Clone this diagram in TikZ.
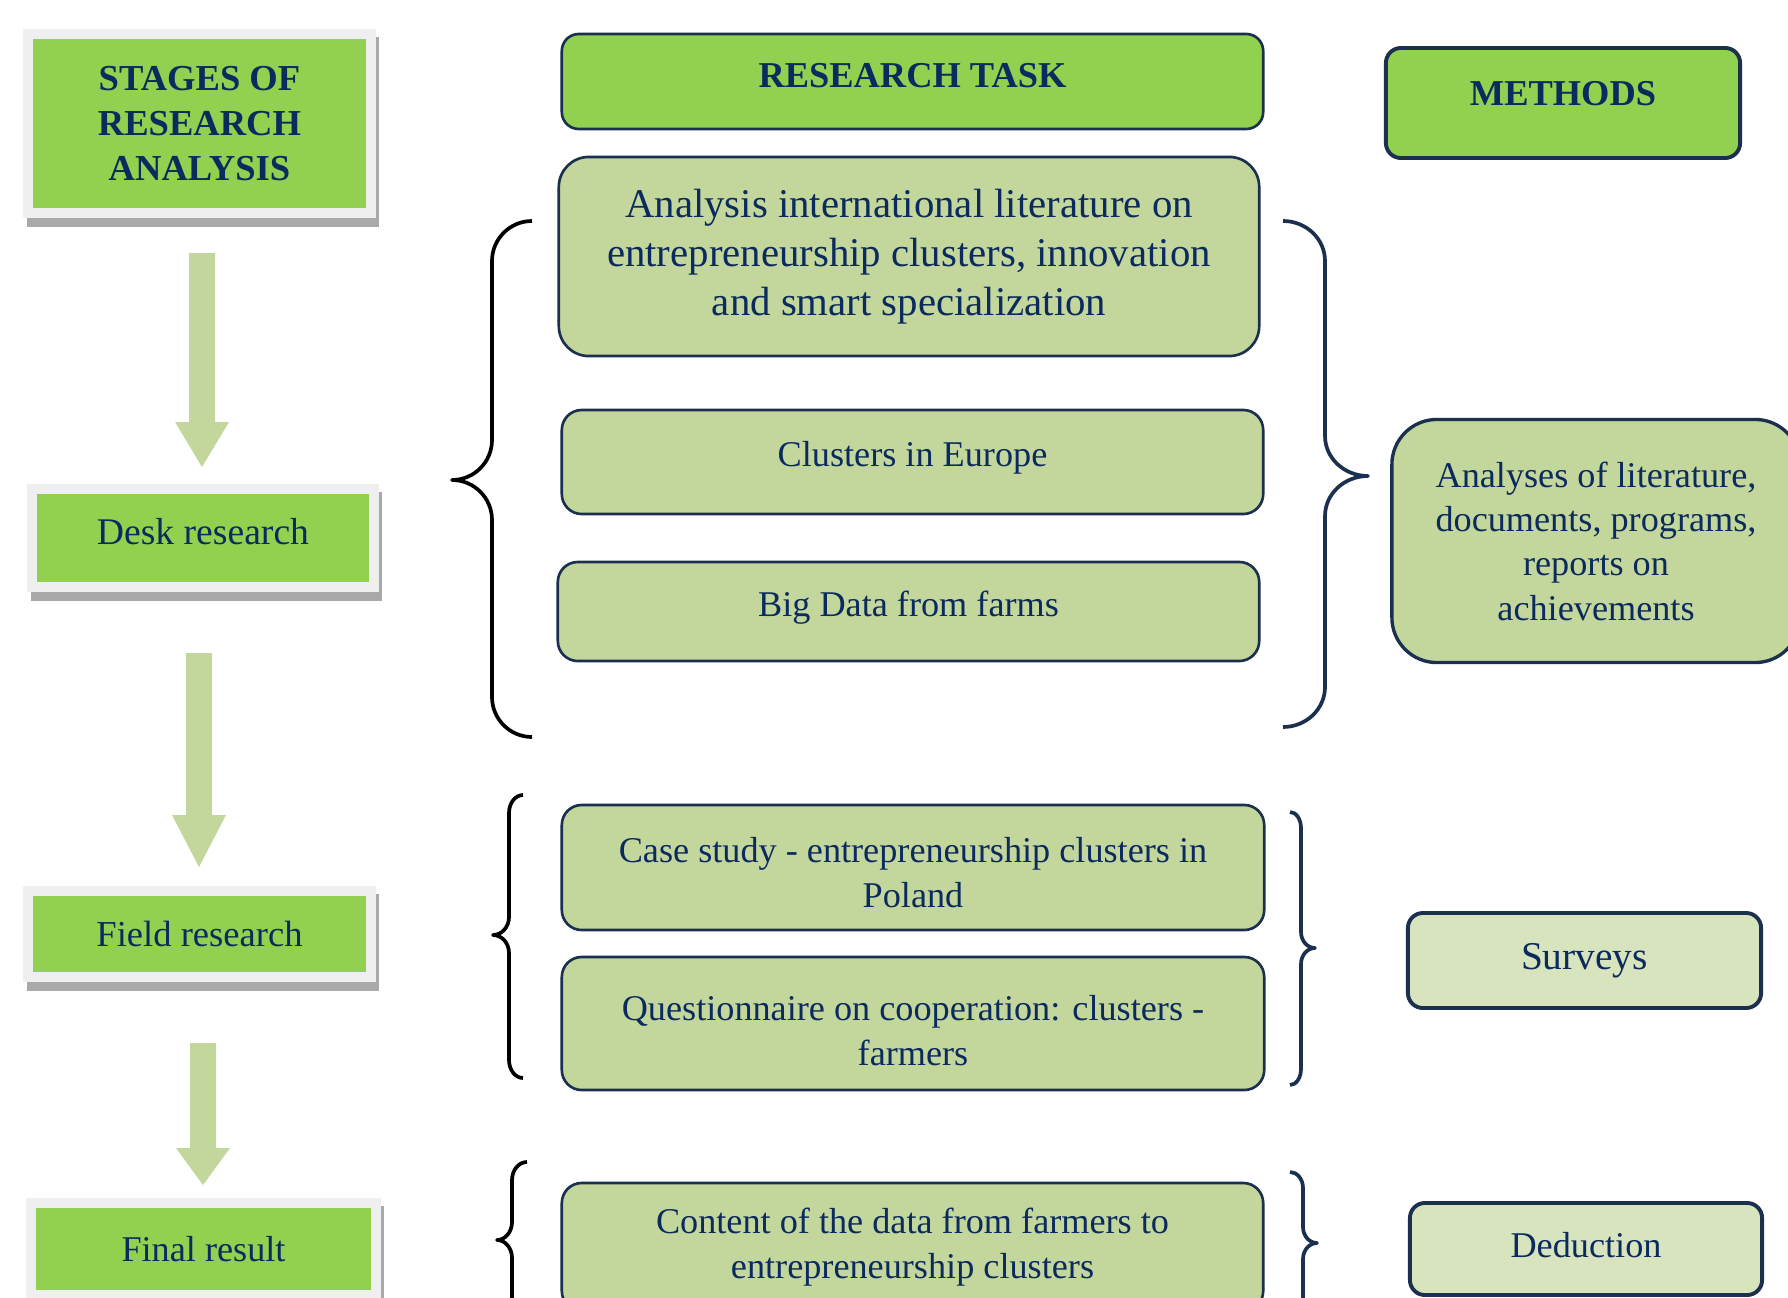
\documentclass[tikz,border=0pt]{standalone}
\usepackage{fontspec}
\setmainfont{Liberation Serif}
\usetikzlibrary{backgrounds,calc}
\definecolor{brightgreen}{HTML}{92D050}
\definecolor{olive}{HTML}{C3D69B}
\definecolor{pale}{HTML}{D7E4BD}
\definecolor{navy}{HTML}{0B2A5E}
\definecolor{edge}{HTML}{1B2F4E}
\definecolor{framegray}{HTML}{EFEFEF}
\definecolor{shadowgray}{HTML}{A9A9A9}
\newcommand\stagearrow[4]{\fill[olive] (#1-13,#2) -- (#1+13,#2) -- (#1+13,#3) -- (#1+27,#3) -- (#1,#4) -- (#1-27,#3) -- (#1-13,#3) -- cycle;}
% style, end x, spine x, tip x, top y, mid y, bottom y, radius
\newcommand\curlybrace[8]{\draw[#1]
  (#2,#5) .. controls ({#2-0.552*(#2-#3)},#5) and (#3,{#5+0.448*#8}) .. (#3,#5+#8)
  -- (#3,#6-#8) .. controls (#3,{#6-0.448*#8}) and ({#3+0.448*(#4-#3)},#6) .. (#4,#6)
  .. controls ({#3+0.448*(#4-#3)},#6) and (#3,{#6+0.448*#8}) .. (#3,#6+#8)
  -- (#3,#7-#8) .. controls (#3,{#7-0.448*#8}) and ({#2-0.552*(#2-#3)},#7) .. (#2,#7);}
\begin{document}
\begin{tikzpicture}[x=0.01cm,y=-0.01cm,
  stagebox/.style={draw=framegray, line width=0.1cm, fill=brightgreen, text=navy, align=center, inner sep=0pt, outer sep=0pt},
  taskbox/.style={draw=edge, line width=0.75pt, fill=olive, text=navy, align=center, inner sep=0pt, rounded corners=0.2cm, font=\fontsize{10.3}{12.8}\selectfont},
  headgreen/.style={draw=edge, line width=0.75pt, fill=brightgreen, text=navy, inner sep=0pt, rounded corners=0.17cm, font=\bfseries\fontsize{10.35}{12}\selectfont},
  methodbox/.style={draw=edge, line width=1.1pt, fill=pale, text=navy, inner sep=0pt, rounded corners=0.15cm, font=\fontsize{10.3}{12.8}\selectfont},
  leftbrace/.style={draw=black, line width=1.05pt, line join=round},
  rightbrace/.style={draw=edge, line width=1.05pt, line join=round}
]
\useasboundingbox (0,0) rectangle (1788,1297);
\clip (0,0) rectangle (1788,1297);

% stages column
\node[stagebox, minimum width=3.43cm, minimum height=1.79cm, font=\bfseries\fontsize{10.4}{12.7}\selectfont] (stages) at (199.5,123.5) {STAGES OF\\RESEARCH\\ANALYSIS};
\node[stagebox, minimum width=3.42cm, minimum height=0.98cm, font=\fontsize{10.7}{12.8}\selectfont, text depth=3.7pt] (desk) at (203,538) {Desk research};
\node[stagebox, minimum width=3.43cm, minimum height=0.86cm, font=\fontsize{10.4}{12.8}\selectfont] (field) at (199.5,934) {Field research};
\node[stagebox, minimum width=3.45cm, minimum height=0.92cm, font=\fontsize{10.3}{12.8}\selectfont] (final) at (203.5,1249) {Final result};

\begin{scope}[on background layer]
\fill[white] (0,0) rectangle (1788,1297);
\foreach \n in {stages,desk,field,final}
  \fill[shadowgray] ($(\n.north west)+(-1,3)$) rectangle ($(\n.south east)+(8,14)$);
\end{scope}

\stagearrow{202}{253}{422}{467}
\stagearrow{199}{653}{815}{867}
\stagearrow{203}{1043}{1148}{1185}

% research tasks
\node[headgreen, minimum width=7.01cm, minimum height=0.95cm, text depth=3.7pt] (rtask) at (912.5,81.5) {RESEARCH TASK};
\node[taskbox, rounded corners=0.3cm, minimum width=7cm, minimum height=1.99cm, font=\fontsize{11.6}{13.9}\selectfont] (lit) at (909,256.5) {Analysis international literature on\\entrepreneurship clusters, innovation\\and smart specialization};
\node[taskbox, minimum width=7.01cm, minimum height=1.04cm, text depth=4.5pt] (europe) at (912.5,462) {Clusters in Europe};
\node[taskbox, minimum width=7.01cm, minimum height=0.99cm, text depth=4.5pt] (bigdata) at (908.5,611.5) {Big Data from farms};
\node[taskbox, minimum width=7.02cm, minimum height=1.25cm] (case) at (913,867.5) {\rule{0pt}{10.3pt}Case study - entrepreneurship clusters in\\Poland};
\node[taskbox, minimum width=7.02cm, minimum height=1.33cm] (quest) at (913,1023.5) {\rule{0pt}{11pt}Questionnaire on cooperation: clusters -\\farmers};
\node[taskbox, minimum width=7.01cm, minimum height=1.28cm] (content) at (912.5,1247) {Content of the data from farmers to\\entrepreneurship clusters};

% methods
\node[headgreen, line width=1.1pt, rounded corners=0.15cm, minimum width=3.54cm, minimum height=1.1cm, text depth=5.4pt] (methods) at (1563,103) {METHODS};
\node[taskbox, line width=0.95pt, rounded corners=0.45cm, minimum width=4.08cm, minimum height=2.43cm, font=\fontsize{10.3}{12.6}\selectfont] (analyses) at (1596,541) {Analyses of literature,\\documents, programs,\\reports on\\achievements};
\node[methodbox, minimum width=3.53cm, minimum height=0.95cm, font=\fontsize{11.2}{13}\selectfont] (surveys) at (1584.5,960.5) {Surveys};
\node[methodbox, minimum width=3.52cm, minimum height=0.92cm, text depth=2.6pt] (deduction) at (1586,1249) {Deduction};

% braces
\curlybrace{leftbrace}{532}{492}{452}{221}{480}{737}{40}
\curlybrace{rightbrace}{1283}{1325}{1368}{221}{476}{727}{40}
\curlybrace{leftbrace}{523}{509}{493}{795}{935}{1078}{18}
\curlybrace{rightbrace}{1290}{1301}{1315}{812}{948}{1085}{16}
\curlybrace{leftbrace}{527}{512}{497}{1162}{1240}{1318}{18}
\curlybrace{rightbrace}{1290}{1303}{1317}{1172}{1243}{1314}{16}
\end{tikzpicture}
\end{document}
